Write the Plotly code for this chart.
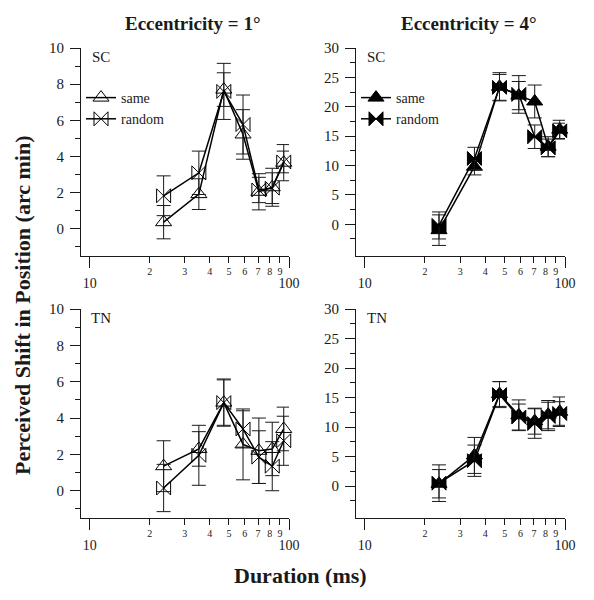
import plotly.graph_objects as go
import math

durations = [23.5, 35.3, 47.1, 58.8, 70.6, 82.4, 94.1]

sc1_same = [0.37, 1.92, 7.7, 5.22, 2.05, 2.3, 3.66]
sc1_same_err = [0.92, 0.85, 0.93, 1.37, 1.0, 1.05, 1.0]
sc1_rand = [1.83, 3.1, 7.6, 5.77, 2.15, 2.25, 3.7]
sc1_rand_err = [1.1, 1.2, 1.55, 1.63, 0.7, 0.85, 0.6]

sc4_same = [-1.0, 9.8, 23.4, 21.9, 20.9, 13.2, 16.1]
sc4_same_err = [2.6, 1.4, 2.4, 2.4, 2.8, 1.7, 1.6]
sc4_rand = [-0.2, 11.2, 23.3, 22.1, 14.9, 13.0, 15.9]
sc4_rand_err = [2.3, 1.9, 2.2, 3.2, 2.0, 1.5, 1.3]

tn1_same = [1.35, 2.3, 4.85, 2.55, 2.2, 2.3, 3.4]
tn1_same_err = [1.4, 0.95, 1.25, 1.95, 1.8, 1.47, 1.2]
tn1_rand = [0.15, 1.95, 4.85, 3.4, 1.85, 1.35, 2.75]
tn1_rand_err = [1.3, 1.65, 1.3, 1.0, 1.45, 1.35, 1.35]

tn4_same = [0.4, 5.2, 15.6, 12.0, 11.0, 12.1, 12.6]
tn4_same_err = [2.4, 3.05, 2.1, 2.6, 2.2, 2.4, 2.5]
tn4_rand = [0.5, 4.3, 15.5, 11.7, 10.6, 11.8, 12.3]
tn4_rand_err = [3.1, 2.65, 2.2, 2.2, 2.5, 2.4, 2.0]

minor_tick_vals = [20, 30, 40, 50, 60, 70, 80, 90]
minor_tick_text = ["2", "3", "4", "5", "6", "7", "8", "9"]
major_tick_vals = [10, 100]
major_tick_text = ["10", "100"]

FONT = "Liberation Serif"
INK = "#1a1a1a"
W, H = 594, 600

def px_x(p):
    return p / W

def px_y(p):
    return 1 - p / H

dom_x = {1: [px_x(81), px_x(289)], 2: [px_x(356), px_x(565)]}
dom_y = {1: [px_y(256), px_y(48)], 2: [px_y(518), px_y(309)]}
xrange_log = [math.log10(9.05), 2.0]

fig = go.Figure()

panels = [
    (1, 1, 1, sc1_same, sc1_same_err, sc1_rand, sc1_rand_err, False, "legend"),
    (2, 2, 1, sc4_same, sc4_same_err, sc4_rand, sc4_rand_err, True, "legend2"),
    (3, 1, 2, tn1_same, tn1_same_err, tn1_rand, tn1_rand_err, False, None),
    (4, 2, 2, tn4_same, tn4_same_err, tn4_rand, tn4_rand_err, True, None),
]

for idx, col, row, s, se, r, re_, filled, leg in panels:
    xa = "x" if idx == 1 else f"x{idx}"
    ya = "y" if idx == 1 else f"y{idx}"
    tri = "triangle-up" if filled else "triangle-up-open"
    bow = "bowtie" if filled else "bowtie-open"
    for name, vals, errs, sym in (("same", s, se, tri), ("random", r, re_, bow)):
        fig.add_trace(go.Scatter(
            x=durations, y=vals, name=name, mode="lines+markers",
            xaxis=xa, yaxis=ya, cliponaxis=False,
            line=dict(color="black", width=1.5),
            marker=dict(symbol=sym, size=14, color="black",
                        line=dict(color="black", width=1)),
            error_y=dict(type="data", array=errs, visible=True,
                         color=INK, thickness=1, width=7),
            showlegend=leg is not None,
            legend=leg if leg else "legend",
        ))
    # empty trace registering the overlay axis carrying the decade ticks
    fig.add_trace(go.Scatter(x=[], y=[], xaxis=f"x{idx + 4}", yaxis=ya,
                             showlegend=False, hoverinfo="skip"))

layout = dict(
    template="none",
    width=W, height=H, margin=dict(l=0, r=0, t=0, b=0, autoexpand=False),
    paper_bgcolor="white", plot_bgcolor="white",
    font=dict(family=FONT, color=INK, size=15),
    showlegend=True,
)

for idx, col, row, *_ in panels:
    xk = "xaxis" if idx == 1 else f"xaxis{idx}"
    yk = "yaxis" if idx == 1 else f"yaxis{idx}"
    ya = "y" if idx == 1 else f"y{idx}"
    xa = "x" if idx == 1 else f"x{idx}"
    if col == 1:
        yrange = [-1.5, 10]
        ymaj = [0, 2, 4, 6, 8, 10]
        ymin = [-1, 1, 3, 5, 7, 9]
    else:
        yrange = [-5.4, 30]
        ymaj = [0, 5, 10, 15, 20, 25, 30]
        ymin = [-2.5, 2.5, 7.5, 12.5, 17.5, 22.5, 27.5]
    layout[xk] = dict(
        domain=dom_x[col], anchor=ya, type="log", range=xrange_log,
        tickvals=minor_tick_vals, ticktext=minor_tick_text,
        tickfont=dict(size=10, family=FONT, color=INK),
        ticks="outside", ticklen=6, tickcolor=INK, tickwidth=1,
        showline=True, linecolor=INK, linewidth=1,
        showgrid=False, zeroline=False, automargin=False,
    )
    layout[yk] = dict(
        domain=dom_y[row], anchor=xa, range=yrange,
        tickvals=ymaj, ticks="outside", ticklen=10, tickcolor=INK, tickwidth=1,
        tickfont=dict(size=15, family=FONT, color=INK),
        ticklabelstandoff=3,
        minor=dict(tickvals=ymin, ticks="outside", ticklen=5, tickcolor=INK),
        showline=True, linecolor=INK, linewidth=1,
        showgrid=False, zeroline=False, automargin=False,
    )
    ok = f"xaxis{idx + 4}"
    layout[ok] = dict(
        overlaying=xa, anchor=ya, side="bottom", type="log", range=xrange_log,
        tickvals=major_tick_vals, ticktext=major_tick_text,
        tickfont=dict(size=14, family=FONT, color=INK),
        ticks="outside", ticklen=11, tickcolor=INK, tickwidth=1,
        ticklabelstandoff=3,
        showline=False, showgrid=False, zeroline=False, automargin=False,
    )

legend_common = dict(
    font=dict(family=FONT, size=14, color=INK),
    bgcolor="rgba(0,0,0,0)", borderwidth=0,
    xanchor="left", yanchor="top", tracegroupgap=0,
)
layout["legend"] = dict(x=px_x(81), y=px_y(82), **legend_common)
layout["legend2"] = dict(x=px_x(356), y=px_y(82), **legend_common)

annotations = [
    dict(text="<b>Eccentricity = 1°</b>", x=px_x(193), y=px_y(23),
         font=dict(size=19)),
    dict(text="<b>Eccentricity = 4°</b>", x=px_x(469), y=px_y(23),
         font=dict(size=19)),
    dict(text="<b>Perceived Shift in Position (arc min)</b>", x=px_x(22),
         y=px_y(305), textangle=-90, font=dict(size=22)),
    dict(text="<b>Duration (ms)</b>", x=px_x(300), y=px_y(575),
         font=dict(size=22)),
    dict(text="SC", x=px_x(90), y=px_y(57), xanchor="left", font=dict(size=15)),
    dict(text="SC", x=px_x(365), y=px_y(57), xanchor="left", font=dict(size=15)),
    dict(text="TN", x=px_x(89), y=px_y(318), xanchor="left", font=dict(size=15)),
    dict(text="TN", x=px_x(365), y=px_y(318), xanchor="left", font=dict(size=15)),
]
for a in annotations:
    a.update(xref="paper", yref="paper", showarrow=False)
    a.setdefault("xanchor", "center")
    a["yanchor"] = "middle"
    a["font"].update(family=FONT, color=INK)
layout["annotations"] = annotations

fig.update_layout(**layout)
fig.write_html(
    "out.html",
    config={"displayModeBar": False},
    post_script=(
        "document.body.style.margin='0';"
        "document.body.style.overflow='hidden';"
        "var gd=document.getElementById('{plot_id}');"
        "gd.style.position='fixed';gd.style.top='0px';gd.style.left='0px';"
    ),
)
